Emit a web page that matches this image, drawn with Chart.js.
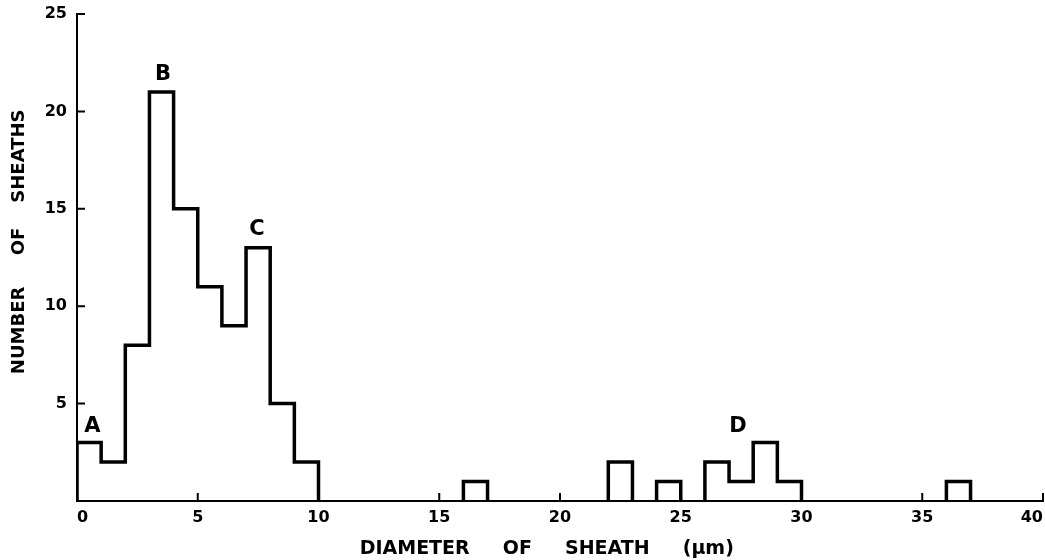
<!DOCTYPE html>
<html>
<head>
<meta charset="utf-8">
<script src="https://cdn.jsdelivr.net/npm/chart.js@4.4.1/dist/chart.umd.min.js"></script>
<style>
    html, body { margin: 0; padding: 0; background: #fff; }
    #wrap { width: 1045px; height: 560px; }
</style>
</head>
<body>
<div id="wrap"><canvas id="chart"></canvas></div>
<script>
// histogram of sheath diameters, 1 um bins (only bins with sheaths listed)
const binWidth = 1
const binLow = [0, 1, 2, 3, 4, 5, 6, 7, 8, 9, 16, 22, 24, 26, 27, 28, 29, 36]
const counts = [3, 2, 8, 21, 15, 11, 9, 13, 5, 2, 1, 2, 1, 2, 1, 3, 1, 1]

// axis ticks
const xTicks = [0, 5, 10, 15, 20, 25, 30, 35, 40]
const yTicks = [5, 10, 15, 20, 25]

// peak letters written over the histogram
const peakNames = ['A', 'B', 'C', 'D']
const peakX = [0.64, 3.56, 7.45, 27.37]
const peakY = [3.8, 21.9, 13.95, 3.8]

const FONT = "'DejaVu Sans', sans-serif"

// turn the bins into one stepped outline, broken between separate groups
function buildOutline() {
    const pts = []
    binLow.forEach((lo, i) => {
        const hi = lo + binWidth
        const joined = i > 0 && binLow[i - 1] + binWidth === lo
        if (!joined) {
            if (i > 0) pts.push({ x: lo, y: null })
            pts.push({ x: lo, y: 0 })
        }
        pts.push({ x: lo, y: counts[i] }, { x: hi, y: counts[i] })
        if (binLow[i + 1] !== hi) pts.push({ x: hi, y: 0 })
    })
    return pts
}

// inward tick marks and the peak letters
const extras = {
    id: 'extras',
    afterDraw(chart) {
        const { ctx, scales: { x, y } } = chart
        ctx.save()
        ctx.strokeStyle = '#000'
        ctx.lineWidth = 2
        ctx.beginPath()
        xTicks.forEach(v => {
            if (v === 0) return
            const px = x.getPixelForValue(v)
            ctx.moveTo(px, y.bottom)
            ctx.lineTo(px, y.bottom - 8)
        })
        yTicks.forEach(v => {
            const py = y.getPixelForValue(v)
            ctx.moveTo(x.left, py)
            ctx.lineTo(x.left + 8, py)
        })
        ctx.stroke()

        ctx.fillStyle = '#000'
        ctx.font = `bold 21px ${FONT}`
        ctx.textAlign = 'center'
        ctx.textBaseline = 'middle'
        peakNames.forEach((name, i) => {
            ctx.fillText(name, x.getPixelForValue(peakX[i]), y.getPixelForValue(peakY[i]))
        })
        ctx.restore()
    }
}

new Chart(document.getElementById('chart'), {
    type: 'line',
    data: {
        datasets: [{
            data: buildOutline(),
            borderColor: '#000',
            borderWidth: 3.5,
            borderJoinStyle: 'miter',
            pointRadius: 0,
            tension: 0,
            spanGaps: false,
            fill: false
        }]
    },
    options: {
        responsive: true,
        maintainAspectRatio: false,
        animation: false,
        layout: { padding: { top: 14, right: 2, left: 0, bottom: 0 } },
        plugins: {
            legend: { display: false },
            tooltip: { enabled: false }
        },
        scales: {
            x: {
                type: 'linear',
                min: 0,
                max: 40,
                afterBuildTicks: s => { s.ticks = xTicks.map(v => ({ value: v })) },
                afterFit: s => { s.height = 59; s.paddingLeft = 0; s.paddingRight = 0 },
                grid: { display: false, drawTicks: false },
                border: { display: true, color: '#000', width: 2 },
                ticks: {
                    color: '#000',
                    padding: 7,
                    align: 'inner',
                    maxRotation: 0,
                    autoSkip: false,
                    font: { family: FONT, size: 16, weight: 'bold' }
                },
                title: {
                    display: true,
                    text: 'DIAMETER     OF     SHEATH     (\u00b5m)    ',
                    color: '#000',
                    padding: { top: 0, bottom: 0 },
                    font: { family: FONT, size: 19, weight: 'bold' }
                }
            },
            y: {
                type: 'linear',
                min: 0,
                max: 25,
                afterBuildTicks: s => { s.ticks = yTicks.map(v => ({ value: v })) },
                afterFit: s => { s.width = 77; s.paddingTop = 0; s.paddingBottom = 0 },
                grid: { display: false, drawTicks: false },
                border: { display: true, color: '#000', width: 2 },
                ticks: {
                    color: '#000',
                    padding: 10,
                    autoSkip: false,
                    font: { family: FONT, size: 16, weight: 'bold' }
                },
                title: {
                    display: true,
                    text: '     NUMBER     OF    SHEATHS',
                    color: '#000',
                    padding: { top: 9, bottom: 0 },
                    font: { family: FONT, size: 18, weight: 'bold' }
                }
            }
        }
    },
    plugins: [extras]
})
</script>
</body>
</html>
